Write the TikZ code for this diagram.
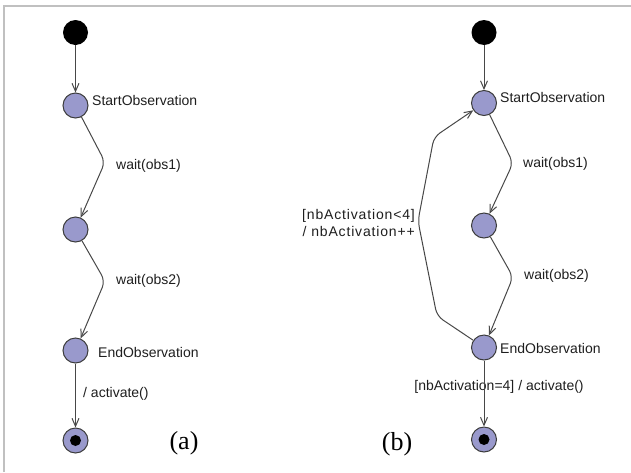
\documentclass[tikz,border=0pt]{standalone}
\usepackage{fontspec}
\setmainfont{Liberation Sans}
\newfontfamily\capfont{Liberation Serif}
\usetikzlibrary{arrows.meta}
\definecolor{statefill}{RGB}{153,153,204}
\definecolor{stateline}{RGB}{60,60,60}
\definecolor{edgeline}{RGB}{72,72,72}
\definecolor{framecol}{RGB}{192,192,192}
\definecolor{textcol}{RGB}{30,30,30}
\tikzset{
  state/.style={circle, draw=stateline, line width=1pt, fill=statefill,
    minimum size=25pt, inner sep=0pt},
  initial/.style={circle, fill=black, minimum size=25pt, inner sep=0pt},
  final/.style={circle, draw=stateline, line width=1pt, fill=statefill,
    minimum size=25pt, inner sep=0pt,
    path picture={\fill[black] (path picture bounding box.center) circle (5.5pt);}},
  trans/.style={draw=edgeline, line width=1pt, rounded corners=7pt,
    -{Straight Barb[length=8pt,width=7pt,line width=1pt]}},
  lbl/.style={inner sep=0pt, text=textcol, font=\fontsize{14}{16}\selectfont},
  caption/.style={inner sep=0pt, font=\capfont\fontsize{26}{30}\selectfont}
}
\begin{document}
\begin{tikzpicture}[x=1pt, y=-1pt]
\useasboundingbox (0,0) rectangle (631,472);
% frame
\draw[framecol, line width=2pt] (3.5,472) -- (3.5,5.5) -- (631,5.5);

% ---------- (a) ----------
\node[initial] (ai) at (75.5,32.5) {};
\node[state] (as) at (75.5,105.5) {};
\node[state] (am) at (75.5,229.5) {};
\node[state] (ae) at (75.5,350.5) {};
\node[final] (af) at (75.5,440.5) {};
\coordinate (ab1) at (105,162);
\coordinate (ab2) at (105,281);

\node[lbl, anchor=base west] (asl) at (92,105) {StartObservation};
\node[lbl, anchor=base west] (aw1) at (116,169) {wait(obs1)};
\node[lbl, anchor=base west] (aw2) at (116,284) {wait(obs2)};
\node[lbl, anchor=base west] (ael) at (98,357) {EndObservation};
\node[lbl, anchor=base west] (aact) at (83,397) {/ activate()};
\node[caption, anchor=base] (acap) at (184,449) {(a)};

\draw[trans] (ai) -- (as);
\draw[trans] (as) -- (ab1) -- (am);
\draw[trans] (am) -- (ab2) -- (ae);
\draw[trans] (ae) -- (af);

% ---------- (b) ----------
\node[initial] (bi) at (484,32.5) {};
\node[state] (bs) at (484,103) {};
\node[state] (bm) at (484,225.5) {};
\node[state] (be) at (484,347.5) {};
\node[final] (bf) at (484,439.5) {};
\coordinate (bb1) at (513,163);
\coordinate (bb2) at (513,277);
\coordinate (bl1) at (437,316);
\coordinate (bl2) at (418,221);
\coordinate (bl3) at (434,137);

\node[lbl, anchor=base west] (bsl) at (500,102) {StartObservation};
\node[lbl, anchor=base west] (bw1) at (523,167) {wait(obs1)};
\node[lbl, anchor=base west] (bw2) at (524,279) {wait(obs2)};
\node[lbl, anchor=base west] (bel) at (500,353) {EndObservation};
\node[lbl, anchor=base east, font=\fontsize{14}{16}\selectfont\addfontfeature{LetterSpace=6}] (bg1) at (415,219) {[nbActivation<4]};
\node[lbl, anchor=base east, font=\fontsize{14}{16}\selectfont\addfontfeature{LetterSpace=6}] (bg2) at (415,236) {/ nbActivation++};
\node[lbl, anchor=base] (bact) at (499,390) {[nbActivation=4] / activate()};
\node[caption, anchor=base] (bcap) at (397,450) {(b)};

\draw[trans] (bi) -- (bs);
\draw[trans] (bs) -- (bb1) -- (bm);
\draw[trans] (bm) -- (bb2) -- (be);
\draw[trans] (be) -- (bf);
\draw[trans] (be) -- (bl1) -- (bl2) -- (bl3) -- (bs);
\end{tikzpicture}
\end{document}
